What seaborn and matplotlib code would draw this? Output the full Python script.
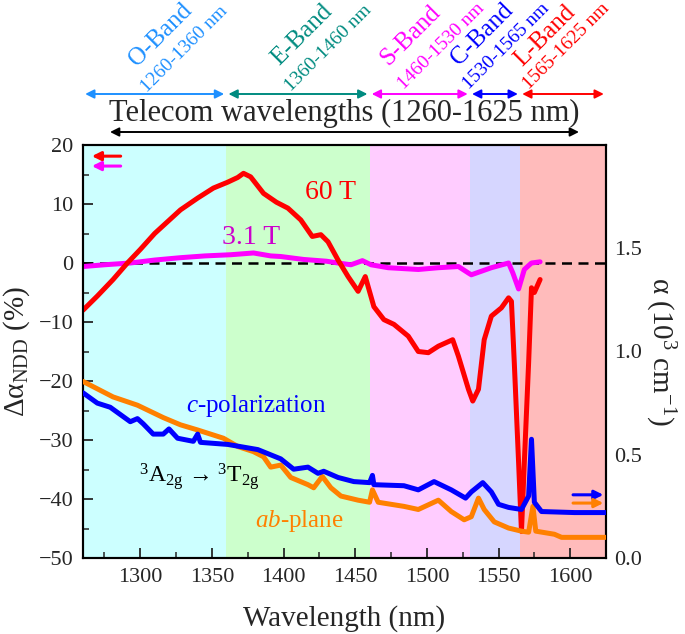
import matplotlib
matplotlib.use('Agg')
import matplotlib.pyplot as plt
import matplotlib.transforms as mtransforms
from matplotlib.ticker import MultipleLocator
import seaborn as sns

# ---------------- data ----------------
wl_60T = [1260, 1270, 1281, 1291, 1300, 1310, 1319, 1328, 1340, 1351, 1361, 1368, 1372, 1377,
          1386, 1395, 1403, 1412, 1420, 1426, 1431, 1438, 1445, 1452, 1457, 1463, 1470, 1477,
          1487, 1494, 1501, 1508, 1518, 1522, 1529, 1532, 1536, 1540, 1545, 1552, 1557, 1559,
          1561, 1564, 1566, 1568, 1571, 1573, 1575, 1579]
d_60T = [-8.0, -5.6, -2.8, 0.0, 2.3, 5.0, 7.0, 9.0, 11.0, 12.7, 13.7, 14.5, 15.2, 14.6,
         11.8, 10.3, 9.3, 7.3, 4.5, 4.8, 3.6, 0.5, -2.3, -4.8, -2.3, -7.4, -9.6, -10.4,
         -12.4, -15.0, -15.2, -14.1, -13.0, -15.8, -21.4, -23.4, -21.4, -13.0, -9.0, -7.6, -5.9, -6.5,
         -16.9, -33.8, -45.5, -33.8, -16.9, -4.2, -5.0, -2.8]

wl_3T = [1260, 1275, 1293, 1310, 1328, 1345, 1363, 1379, 1391, 1398, 1414, 1430, 1438, 1447,
         1455, 1461, 1473, 1494, 1508, 1522, 1529, 1531, 1545, 1557, 1560, 1564, 1568, 1573, 1579]
d_3T = [-0.6, -0.3, 0.0, 0.5, 0.9, 1.2, 1.4, 1.7, 1.2, 1.1, 0.6, 0.3, 0.0, -0.3,
        0.4, -0.3, -0.8, -1.1, -0.8, -0.6, -1.7, -2.0, -0.8, 0.0, -1.7, -4.4, -1.1, 0.0, 0.2]

wl_c = [1260, 1270, 1279, 1293, 1298, 1302, 1309, 1316, 1320, 1326, 1337, 1340, 1342, 1361,
        1382, 1398, 1407, 1417, 1424, 1428, 1438, 1449, 1460, 1462, 1463, 1484, 1494, 1505,
        1517, 1527, 1531, 1539, 1545, 1550, 1557, 1566, 1571, 1573, 1575, 1580, 1603, 1625]
a_c = [0.80, 0.75, 0.73, 0.66, 0.675, 0.65, 0.60, 0.60, 0.625, 0.58, 0.565, 0.60, 0.56, 0.55,
       0.525, 0.48, 0.43, 0.44, 0.41, 0.42, 0.39, 0.37, 0.365, 0.40, 0.355, 0.35, 0.33, 0.37,
       0.33, 0.29, 0.32, 0.365, 0.32, 0.26, 0.245, 0.235, 0.30, 0.575, 0.27, 0.225, 0.22, 0.22]

wl_ab = [1260, 1281, 1298, 1316, 1328, 1340, 1358, 1368, 1379, 1386, 1391, 1398, 1405, 1417,
         1421, 1427, 1433, 1440, 1452, 1460, 1462, 1466, 1484, 1494, 1508, 1517, 1526, 1531,
         1536, 1540, 1547, 1557, 1566, 1571, 1574, 1576, 1589, 1594, 1625]
a_ab = [0.855, 0.78, 0.74, 0.68, 0.645, 0.62, 0.58, 0.54, 0.515, 0.49, 0.44, 0.45, 0.39, 0.355,
        0.34, 0.395, 0.34, 0.30, 0.28, 0.27, 0.33, 0.27, 0.25, 0.235, 0.28, 0.225, 0.185, 0.20,
        0.29, 0.235, 0.175, 0.145, 0.13, 0.125, 0.25, 0.13, 0.115, 0.10, 0.10]

band_names = ['O-Band', 'E-Band', 'S-Band', 'C-Band', 'L-Band']
band_ranges = ['1260-1360 nm', '1360-1460 nm', '1460-1530 nm', '1530-1565 nm', '1565-1625 nm']
band_lo = [1260, 1360, 1460, 1530, 1565]
band_hi = [1360, 1460, 1530, 1565, 1625]
band_fill = ['#CCFFFF', '#CCFFCC', '#FFCCFF', '#D6D6FF', '#FFBBBB']
band_text = ['#1E90FF', '#008B80', '#FF00FF', '#0000FF', '#FF0000']
# label centres in figure pixels (from top-left)
name_pos = [(161, 35), (302, 35), (411, 35), (482, 34), (545, 36)]
range_pos = [(184, 49), (328, 48), (441, 46), (506, 46), (566, 46)]

# ---------------- style ----------------
sns.set_style('ticks')
plt.rcParams['font.family'] = ['Liberation Serif', 'DejaVu Serif']
plt.rcParams['mathtext.fontset'] = 'custom'
plt.rcParams['mathtext.rm'] = 'Liberation Serif'
plt.rcParams['mathtext.it'] = 'Liberation Serif:italic'
plt.rcParams['mathtext.bf'] = 'Liberation Serif:bold'

W, H = 685, 634
fig = plt.figure(figsize=(W / 100, H / 100), dpi=100)
ax = fig.add_axes([83 / W, 1 - 558 / H, 523 / W, 413 / H])
ax2 = ax.twinx()

for lo, hi, c in zip(band_lo, band_hi, band_fill):
    ax.axvspan(lo, hi, color=c, lw=0, zorder=0)

ax.axhline(0, color='black', lw=1.8, ls=(0, (4, 2.6)), zorder=2)

sns.lineplot(x=wl_3T, y=d_3T, ax=ax, color='#FF00FF', lw=3.6, sort=False, estimator=None, zorder=3)
sns.lineplot(x=wl_60T, y=d_60T, ax=ax, color='#FF0000', lw=3.6, sort=False, estimator=None, zorder=4)
sns.lineplot(x=wl_ab, y=a_ab, ax=ax2, color='#FF8000', lw=3.6, sort=False, estimator=None, zorder=3)
sns.lineplot(x=wl_c, y=a_c, ax=ax2, color='#0000FF', lw=3.6, sort=False, estimator=None, zorder=4)

ax.set_xlim(1260, 1625)
ax.set_ylim(-50, 20)
ax2.set_ylim(0, 2.0)
ax.set_xticks(range(1300, 1601, 50))
ax.xaxis.set_minor_locator(MultipleLocator(25))
ax.set_yticks(range(-50, 21, 10))
ax.yaxis.set_minor_locator(MultipleLocator(5))
ax2.set_yticks([0, 0.5, 1.0, 1.5])
ax2.set_yticklabels(['0.0', '0.5', '1.0', '1.5'])

ax.tick_params(which='major', direction='in', length=7, width=1.3, labelsize=16, pad=7,
               top=False, right=False)
ax.tick_params(which='minor', direction='in', length=4, width=1.1, top=False, right=False)
ax2.tick_params(axis='y', which='both', length=0, labelsize=16, pad=6)
for a in (ax, ax2):
    for s in a.spines.values():
        s.set_linewidth(1.5)
        s.set_color('black')

ax.set_xlabel('Wavelength (nm)', fontsize=21, labelpad=13)
ax.set_ylabel('Δα$_{\\mathrm{NDD}}$ (%)', fontsize=21, labelpad=5)
ax2.set_ylabel('α (10$^{3}$ cm$^{-1}$)', fontsize=21, rotation=270, labelpad=25)

# in-plot annotations
ax.text(1433, 11.9, '60 T', color='#FF0000', fontsize=20, ha='center', va='center')
ax.text(1377, 4.4, '3.1 T', color='#CC00CC', fontsize=20, ha='center', va='center')
ax.text(1381, -24.3, '$c$-polarization', color='#0000FF', fontsize=18, ha='center', va='center')
ax.text(1341, -36.2, '$^{3}$A$_{\\mathrm{2g}}$ → $^{3}$T$_{\\mathrm{2g}}$', color='black',
        fontsize=17, ha='center', va='center')
ax.text(1411, -43.7, '$ab$-plane', color='#FF8000', fontsize=18, ha='center', va='center')

# small direction arrows (axes fraction)
for y, c in [(0.973, '#FF0000'), (0.949, '#FF00FF')]:
    ax.annotate('', xy=(0.017, y), xytext=(0.072, y), xycoords='axes fraction',
                arrowprops=dict(arrowstyle='-|>', color=c, lw=2.2, mutation_scale=13,
                                shrinkA=0, shrinkB=0))
for y, c in [(0.153, '#0000FF'), (0.133, '#FF8000')]:
    ax.annotate('', xy=(0.995, y), xytext=(0.937, y), xycoords='axes fraction',
                arrowprops=dict(arrowstyle='-|>', color=c, lw=2.2, mutation_scale=13,
                                shrinkA=0, shrinkB=0))

# band arrows and labels above the axes
blend = mtransforms.blended_transform_factory(ax.transData, fig.transFigure)
for lo, hi, c in zip(band_lo, band_hi, band_text):
    ax.annotate('', xy=(lo + 1.5, 1 - 94 / H), xytext=(hi - 1.5, 1 - 94 / H),
                xycoords=blend, textcoords=blend, annotation_clip=False,
                arrowprops=dict(arrowstyle='<|-|>', color=c, lw=1.4, mutation_scale=13,
                                shrinkA=0, shrinkB=0))
for name, rng, c, p1, p2 in zip(band_names, band_ranges, band_text, name_pos, range_pos):
    fig.text(p1[0] / W, 1 - p1[1] / H, name, color=c, fontsize=18, rotation=45,
             rotation_mode='anchor', ha='center', va='center')
    fig.text(p2[0] / W, 1 - p2[1] / H, rng, color=c, fontsize=14, rotation=45,
             rotation_mode='anchor', ha='center', va='center')

fig.text(344 / W, 1 - 113 / H, 'Telecom wavelengths (1260-1625 nm)', fontsize=22,
         ha='center', va='center')
ax.annotate('', xy=(110 / W, 1 - 132 / H), xytext=(579 / W, 1 - 132 / H),
            xycoords='figure fraction', textcoords='figure fraction',
            arrowprops=dict(arrowstyle='<|-|>', color='black', lw=1.4, mutation_scale=13,
                            shrinkA=0, shrinkB=0))

fig.savefig('out.png', dpi=100)
